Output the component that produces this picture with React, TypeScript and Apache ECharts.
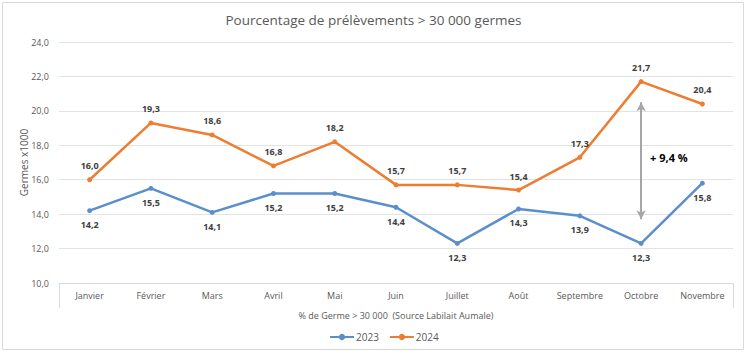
import React, { useEffect, useRef } from "react";
import * as echarts from "echarts";

const months = ["Janvier", "Février", "Mars", "Avril", "Mai", "Juin", "Juillet", "Août", "Septembre", "Octobre", "Novembre"];
const values2023 = [14.2, 15.5, 14.1, 15.2, 15.2, 14.4, 12.3, 14.3, 13.9, 12.3, 15.8];
const values2024 = [16.0, 19.3, 18.6, 16.8, 18.2, 15.7, 15.7, 15.4, 17.3, 21.7, 20.4];
const arrowMonth = "Octobre";
const arrowTop = 20.5;
const arrowBottom = 13.7;
const arrowLabelValue = 17.3;
const arrowLabel = "+ 9,4 %";

const FONT = "Open Sans";
const fmt = (v: number) => v.toFixed(1).replace(".", ",");

export default function App() {
  const ref = useRef<HTMLDivElement>(null);
  useEffect(() => {
    document.body.style.margin = "0";
    const chart = echarts.init(ref.current!, null, { renderer: "svg" });
    chart.setOption({
      animation: false,
      textStyle: { fontFamily: FONT },
      title: {
        text: "Pourcentage de prélèvements > 30 000 germes",
        left: "center",
        top: 8,
        textStyle: { fontFamily: FONT, fontSize: 13.5, fontWeight: "normal", color: "#595959" },
      },
      legend: {
        bottom: 7,
        left: 324,
        itemWidth: 24,
        itemHeight: 8,
        itemGap: 10,
        textStyle: { fontFamily: FONT, fontSize: 10, color: "#595959", padding: [0, 0, 0, -3] },
        data: ["2023", "2024"],
      },
      grid: { left: 59, right: 14, top: 42, bottom: 71 },
      xAxis: {
        type: "category",
        data: months,
        boundaryGap: true,
        axisLine: { lineStyle: { color: "#d9d9d9" } },
        axisTick: { show: false },
        axisLabel: { color: "#595959", fontSize: 9, margin: 8, fontFamily: FONT },
        name: "% de Germe > 30 000  (Source Labilait Aumale)",
        nameLocation: "middle",
        nameGap: 28,
        nameMoveOverlap: false,
        nameTextStyle: { color: "#595959", fontSize: 9, fontFamily: FONT },
      },
      yAxis: {
        type: "value",
        min: 10,
        max: 24,
        interval: 2,
        axisLabel: { color: "#595959", fontSize: 9, formatter: (v: number) => fmt(v), margin: 10, fontFamily: FONT },
        splitLine: { lineStyle: { color: "#e3e3e3" } },
        axisLine: { show: false },
        name: "Germes x1000",
        nameLocation: "middle",
        nameGap: 30,
        nameMoveOverlap: false,
        nameRotate: 90,
        nameTextStyle: { color: "#595959", fontSize: 10, fontFamily: FONT },
      },
      series: [
        {
          name: "2023",
          type: "line",
          data: values2023,
          symbol: "circle",
          symbolSize: 5,
          itemStyle: { color: "#5b8fcc" },
          lineStyle: { width: 2.5, color: "#5b8fcc" },
          label: {
            show: true,
            position: "bottom",
            distance: 7,
            formatter: (p: any) => fmt(p.value),
            color: "#404040",
            fontSize: 9,
            fontWeight: "bold",
            fontFamily: FONT,
          },
        },
        {
          name: "2024",
          type: "line",
          data: values2024,
          symbol: "circle",
          symbolSize: 5,
          itemStyle: { color: "#ed7d31" },
          lineStyle: { width: 2.5, color: "#ed7d31" },
          label: {
            show: true,
            position: "top",
            distance: 7,
            formatter: (p: any) => fmt(p.value),
            color: "#404040",
            fontSize: 9,
            fontWeight: "bold",
            fontFamily: FONT,
          },
          markLine: {
            silent: true,
            symbol: ["arrow", "arrow"],
            symbolSize: [7, 9],
            label: { show: false },
            lineStyle: { color: "#a6a6a6", width: 2, type: "solid" },
            data: [[{ coord: [arrowMonth, arrowTop] }, { coord: [arrowMonth, arrowBottom] }]],
          },
          markPoint: {
            silent: true,
            symbol: "circle",
            symbolSize: 0,
            data: [{ coord: [arrowMonth, arrowLabelValue], value: arrowLabel }],
            label: {
              show: true,
              formatter: arrowLabel,
              position: "right",
              distance: 9,
              color: "#000000",
              fontSize: 11,
              fontWeight: "bold",
              fontFamily: FONT,
            },
          },
        },
      ],
      graphic: [
        {
          type: "rect",
          shape: { x: 2.5, y: 2.5, width: 741, height: 347 },
          style: { fill: "none", stroke: "#d9d9d9", lineWidth: 1 },
          silent: true,
        },
        {
          type: "line",
          shape: { x1: 59.5, y1: 283, x2: 59.5, y2: 308 },
          style: { stroke: "#d9d9d9", lineWidth: 1 },
          silent: true,
        },
        {
          type: "line",
          shape: { x1: 733.5, y1: 283, x2: 733.5, y2: 308 },
          style: { stroke: "#d9d9d9", lineWidth: 1 },
          silent: true,
        },
      ],
    });
    return () => chart.dispose();
  }, []);
  return <div ref={ref} style={{ width: 747, height: 354 }} />;
}
